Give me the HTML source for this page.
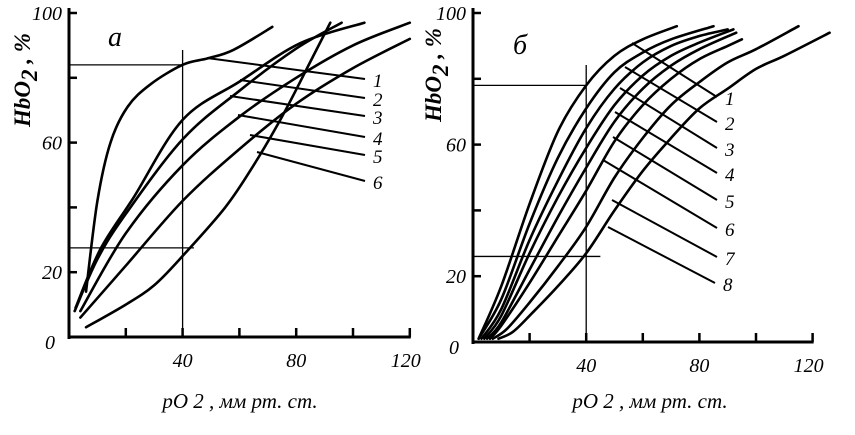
<!DOCTYPE html>
<html><head><meta charset="utf-8"><style>
html,body{margin:0;padding:0;background:#fff;}
svg{display:block;font-family:"Liberation Serif",serif;font-style:italic;}
</style></head><body>
<svg id="chart" width="855" height="435" viewBox="0 0 855 435">
<g id="pa"></g>
<g id="pb"></g>
</svg>
<script>
// ---- Panel a data ----
const aX1=[6,10,14.6,20.6,28.7,40,48.8,57.9,71.6];
const aY1=[14,42,60,71,78,84,86,88.6,95.7];
const aX2=[2.3,11,22.7,40,60.4,81.5,104];
const aY2=[9,27,43,67,79,90.7,97];
const aX3=[2,10,20,40,60,80,96];
const aY3=[8,24,38,61,76,89,97];
const aX4=[4,20,40,60,80,100,120];
const aY4=[8,32,53,68,80,90,97];
const aX5=[4,20,40,60,80,100,120];
const aY5=[6,22,42,58,72,83,92];
const aX6=[6,20,30,40,55,65,75,85,92];
const aY6=[3,10,16,25,40,53,68,85,97];
const aXTicks=[40,80,120];
const aYTicks=[0,20,60,100];
// ---- Panel b data ----
const bX1=[2,10,20,30,40,50,60,72];
const bY1=[1,17,42,64,78,87,92,96];
const bX2=[2,10,20,30,40,50,60,70,85];
const bY2=[1,13,36,56,71,82,88,92,96];
const bX3=[3,10,20,30,40,50,60,70,80,90];
const bY3=[1,10,31,49,65,77,85,90,93,95];
const bX4=[4,10,20,30,40,50,60,70,80,92];
const bY4=[1,8,27,44,59,72,81,87,91,95];
const bX5=[5,10,20,30,40,50,60,70,80,93];
const bY5=[1,6,22,38,53,67,77,84,89,94];
const bX6=[6,10,20,30,40,50,60,70,80,90,95];
const bY6=[1,5,18,32,46,61,72,80,86,90,92];
const bX7=[7,12,20,30,40,50,60,70,80,90,100,115];
const bY7=[1,4,12,23,35,50,62,72,79,85,89,96];
const bX8=[9,14,20,30,40,50,60,70,80,90,100,110,126];
const bY8=[1,3,8,17,27,40,52,62,71,77,83,87,94];
const bXTicks=[40,80,120];
const bYTicks=[0,20,60,100];

const NS="http://www.w3.org/2000/svg";
function mk(parent,tag,attrs){const e=document.createElementNS(NS,tag);for(const k in attrs)e.setAttribute(k,attrs[k]);parent.appendChild(e);return e;}
function smooth(pts){let d="M"+pts[0][0]+","+pts[0][1];for(let i=0;i<pts.length-1;i++){const p0=pts[i-1]||pts[i],p1=pts[i],p2=pts[i+1],p3=pts[i+2]||p2;
const c1=[p1[0]+(p2[0]-p0[0])/6,p1[1]+(p2[1]-p0[1])/6],c2=[p2[0]-(p3[0]-p1[0])/6,p2[1]-(p3[1]-p1[1])/6];
d+=" C"+c1[0].toFixed(1)+","+c1[1].toFixed(1)+" "+c2[0].toFixed(1)+","+c2[1].toFixed(1)+" "+p2[0].toFixed(1)+","+p2[1].toFixed(1);}return d;}

function panel(g,o){
  const sx=v=>o.x0+v*o.kx, sy=v=>o.y0-v*o.ky;
  let e=mk(g,"line",{x1:o.x0,y1:8,x2:o.x0,y2:o.y0+2,stroke:"#000","stroke-width":3});
  
  
  e=mk(g,"line",{x1:o.x0-1,y1:o.y0,x2:sx(120)+1,y2:o.y0,stroke:"#000","stroke-width":3});
  
  
  for(let v=20;v<=120;v+=20){e=mk(g,"line",{x1:sx(v),y1:o.y0,x2:sx(v),y2:o.y0-9,stroke:"#000","stroke-width":2.5});
    
    }
  for(let v=20;v<=100;v+=20){e=mk(g,"line",{x1:o.x0,y1:sy(v),x2:o.x0+8,y2:sy(v),stroke:"#000","stroke-width":2.5});
    
    }
  o.xt.forEach(v=>{e=mk(g,"text",{x:sx(v)-(v==120?4:0),y:o.y0+30,"font-size":20,"text-anchor":"middle"});e.textContent=v;
    
    });
  o.yt.forEach(v=>{e=mk(g,"text",{x:o.x0-(v==0?14:7),y:sy(v)+(v==0?12:7),"font-size":20,"text-anchor":"end"});e.textContent=v;
    
    });
  o.hl.forEach(h=>{e=mk(g,"line",{x1:o.x0,y1:sy(h[0]),x2:sx(h[1]),y2:sy(h[0]),stroke:"#000","stroke-width":1.3});
    
    });
  e=mk(g,"line",{x1:sx(40),y1:o.vtop,x2:sx(40),y2:o.y0,stroke:"#000","stroke-width":1.3});
  
  
  o.series.forEach((s,i)=>{const pts=s[0].map((x,j)=>[sx(x),sy(s[1][j])]);
    e=mk(g,"path",{d:smooth(pts),fill:"none",stroke:"#000","stroke-width":2.6,"stroke-linecap":"round"});
    
    });
  o.leaders.forEach((l,i)=>{e=mk(g,"line",{x1:l[0],y1:l[1],x2:l[2],y2:l[3],stroke:"#000","stroke-width":2});
    
    
    e=mk(g,"text",{x:l[2]+8,y:l[3]+8,"font-size":19});e.textContent=i+1;
    
    });
  e=mk(g,"text",{x:o.letter[0],y:o.letter[1],"font-size":28});e.textContent=o.letter[2];
  
  
  e=mk(g,"text",{x:o.title[0],y:o.title[1],"font-size":21,"text-anchor":"middle","xml:space":"preserve"});e.textContent=o.title[2];
  
  
  e=mk(g,"text",{x:0,y:0,"font-size":23,"font-weight":"bold","text-anchor":"middle",transform:"translate("+o.yt2[0]+","+o.yt2[1]+") rotate(-90)"});
  e.innerHTML='HbO<tspan dy="7" font-size="23">2</tspan><tspan dy="-7"> , %</tspan>';
  
  
}
panel(document.getElementById("pa"),{x0:69,y0:337,kx:2.84,ky:3.24,xt:aXTicks,yt:aYTicks,
  hl:[[84,40],[27.5,44]],vtop:50,
  series:[[aX1,aY1],[aX2,aY2],[aX3,aY3],[aX4,aY4],[aX5,aY5],[aX6,aY6]],
  leaders:[[207,58,365,79],[240,80,365,98],[230,96,365,116],[238,115,365,137],[250,135,365,155],[257,152,365,181]],
  letter:[108,46,"a"],title:[240,408,"pO 2 ,  мм  рт. ст."],yt2:[30,80]});
panel(document.getElementById("pb"),{x0:473,y0:342,kx:2.83,ky:3.29,xt:bXTicks,yt:bYTicks,
  hl:[[78,40],[26,45]],vtop:65,
  series:[[bX1,bY1],[bX2,bY2],[bX3,bY3],[bX4,bY4],[bX5,bY5],[bX6,bY6],[bX7,bY7],[bX8,bY8]],
  leaders:[[632,43,717,97],[625,67,717,122],[620,88,717,148],[615,112,717,173],[613,137,717,200],[603,160,717,228],[612,200,717,257],[608,227,715,283]],
  letter:[513,54,"б"],title:[650,408,"pO 2 , мм рт. ст."],yt2:[441,75]});
</script>
</body></html>
